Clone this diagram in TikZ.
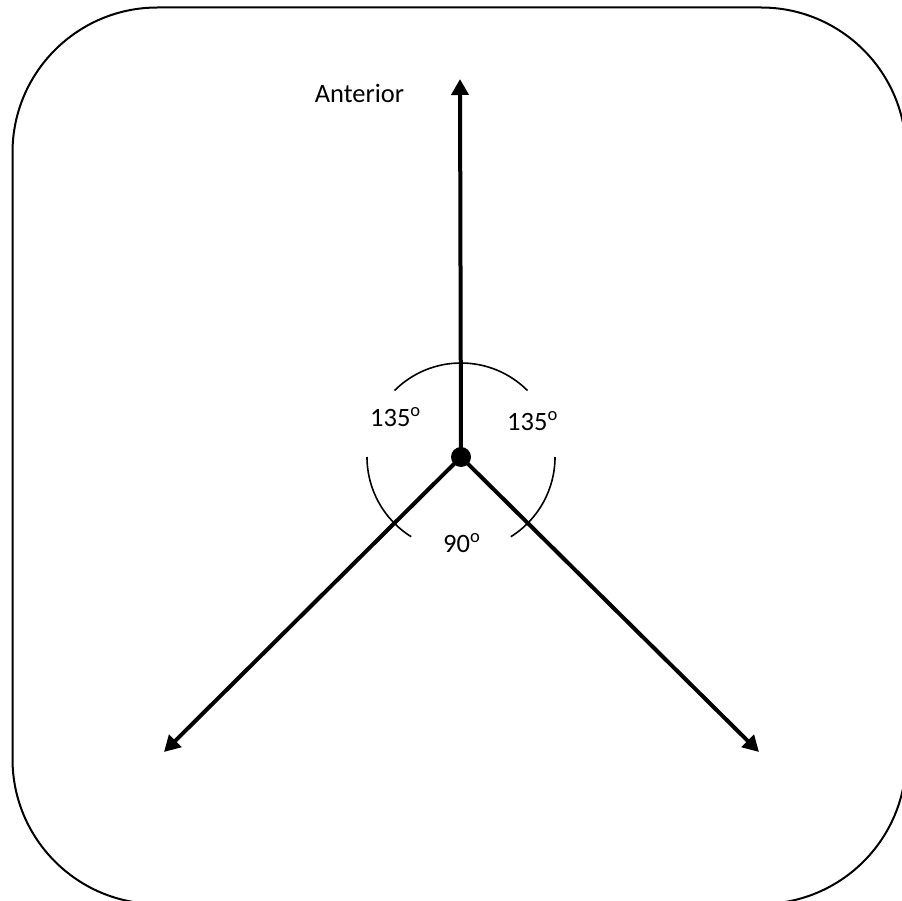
\documentclass[tikz,border=0pt]{standalone}
\usepackage{fontspec}
\setmainfont{Carlito}
\usetikzlibrary{arrows.meta}
\tikzset{
  frame/.style={draw=black, line width=2pt, rounded corners=145pt},
  axis/.style={draw=black, line width=4pt, -{Triangle[length=16pt,width=17pt]}},
  anglearc/.style={draw=black, line width=1.6pt},
  lbl/.style={inner sep=0pt, font=\fontsize{26.5}{31}\selectfont},
  hub/.style={circle, fill=black, inner sep=0pt, minimum size=20pt}
}
\begin{document}
\begin{tikzpicture}[x=1pt,y=-1pt]
\useasboundingbox (0,0) rectangle (902,901);
\draw[frame] (12.5,7.5) rectangle (906,904);
\coordinate (O) at (461,457);
\coordinate (A) at (460,79);
\coordinate (L) at (164,752);
\coordinate (R) at (759,752);
\draw[axis] (O) -- (A);
\draw[axis] (O) -- (L);
\draw[axis] (O) -- (R);
\draw[anglearc] ([shift={(-45:94)}]O) arc[start angle=-45, end angle=-135, radius=94];
\draw[anglearc] ([shift={(180:94)}]O) arc[start angle=180, end angle=122, radius=94];
\draw[anglearc] ([shift={(58:94)}]O) arc[start angle=58, end angle=0, radius=94];
\node[hub] (hubdot) at (O) {};
\node[lbl, anchor=base] (ant) at (359.5,103) {Anterior};
\node[lbl, anchor=base west] (a1) at (370,426) {135\textsuperscript{o}};
\node[lbl, anchor=base west] (a2) at (507,430) {135\textsuperscript{o}};
\node[lbl, anchor=base west] (a3) at (443,552) {90\textsuperscript{o}};
\end{tikzpicture}
\end{document}
